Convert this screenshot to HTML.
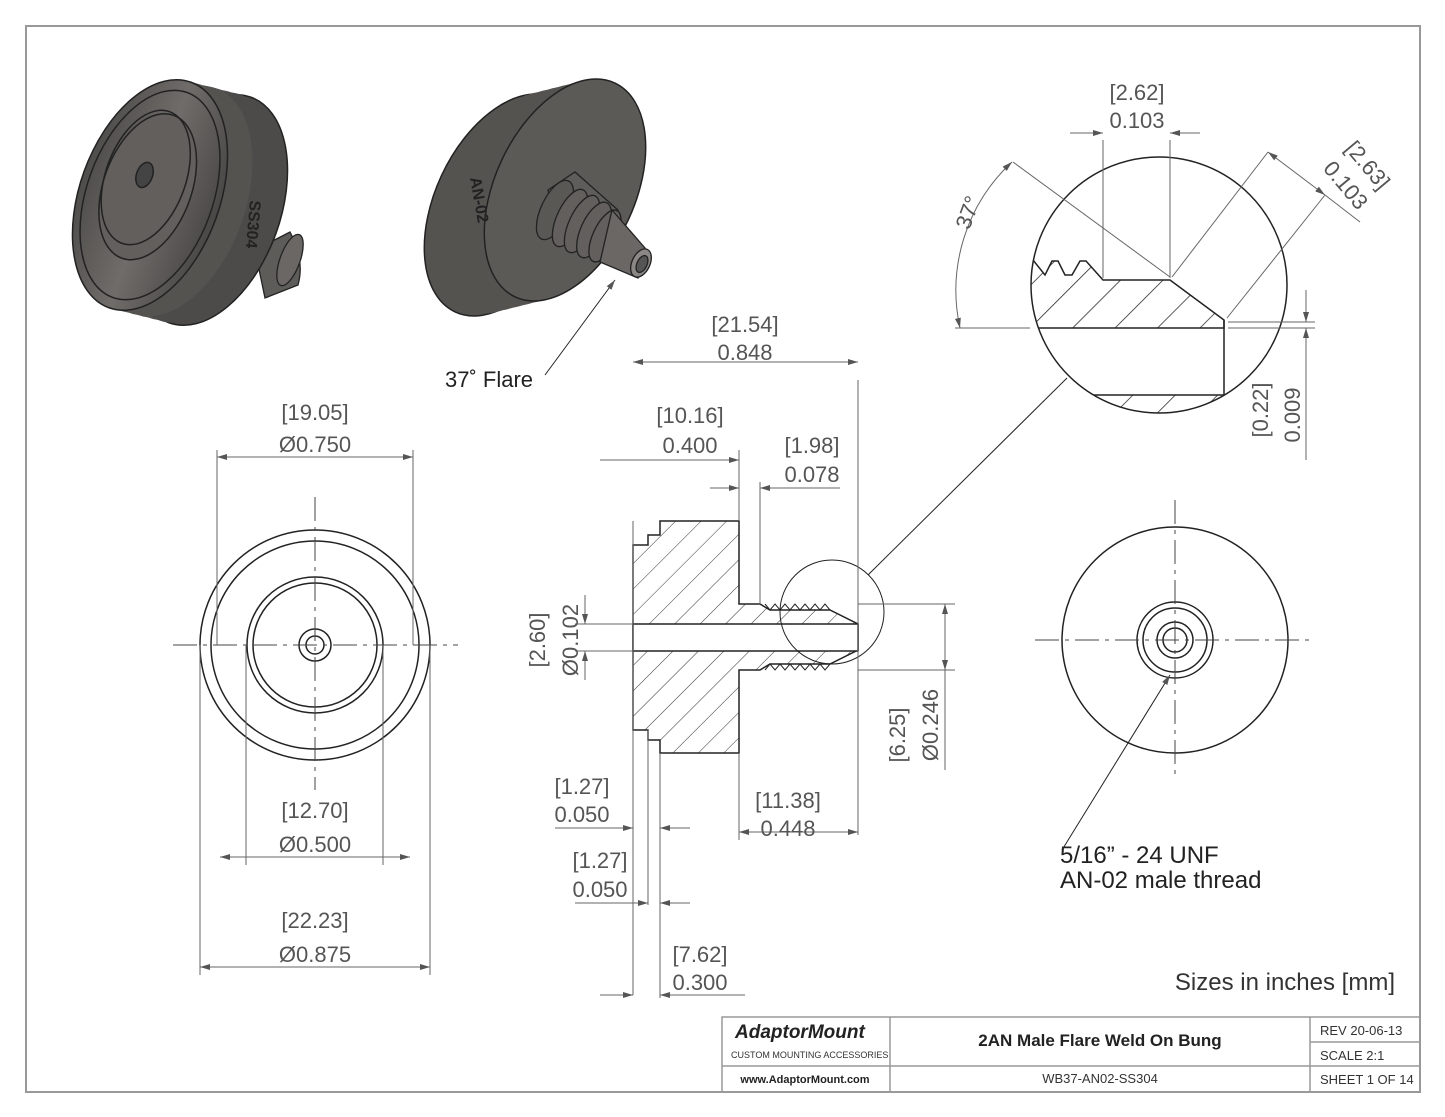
<!DOCTYPE html>
<html><head><style>
html,body{margin:0;padding:0;background:#fff}
svg{display:block}
text{font-family:"Liberation Sans",sans-serif;fill:#555}
.d{font-size:22px}
</style></head><body>
<svg width="1445" height="1117" viewBox="0 0 1445 1117" xmlns="http://www.w3.org/2000/svg">
<defs>
<pattern id="h" width="18" height="18" patternUnits="userSpaceOnUse" patternTransform="rotate(45)">
<rect width="18" height="18" fill="#fff"/><line x1="0" y1="0" x2="0" y2="18" stroke="#333" stroke-width="1"/></pattern>
<pattern id="h2" width="30" height="30" patternUnits="userSpaceOnUse" patternTransform="rotate(45)">
<rect width="30" height="30" fill="#fff"/><line x1="0" y1="0" x2="0" y2="30" stroke="#222" stroke-width="1.5"/></pattern>
<marker id="a" markerWidth="10" markerHeight="6" refX="10" refY="3" orient="auto-start-reverse"><path d="M0,0 L10,3 L0,6z" fill="#555"/></marker>
<linearGradient id="g" x1="0" x2="1"><stop offset="0" stop-color="#4f4d4b"/><stop offset="0.5" stop-color="#6f6c69"/><stop offset="1" stop-color="#4a4846"/></linearGradient>
</defs>
<rect x="26" y="26" width="1394" height="1066" fill="none" stroke="#999" stroke-width="2"/>

<!-- 3D left -->
<g fill="#555350">
<path d="M255,250 L290,232 Q305,260 298,285 L265,298z" fill="#5e5c59" stroke="#222" stroke-width="1.3"/>
<g transform="rotate(20 290 260)"><ellipse cx="290" cy="260" rx="10" ry="27" fill="#6a6764" stroke="#222" stroke-width="1.3"/></g>
<g transform="rotate(20 150 195)"><ellipse cx="150" cy="195" rx="70" ry="120"/></g>
<g transform="translate(10,2.5) rotate(20 150 195)"><ellipse cx="150" cy="195" rx="70" ry="120"/></g>
<g transform="translate(20,5) rotate(20 150 195)"><ellipse cx="150" cy="195" rx="70" ry="120"/></g>
<g transform="translate(30,7.5) rotate(20 150 195)"><ellipse cx="150" cy="195" rx="70" ry="120"/></g>
<g transform="translate(40,10) rotate(20 150 195)"><ellipse cx="150" cy="195" rx="70" ry="120"/></g>
<g transform="translate(50,12.5) rotate(20 150 195)"><ellipse cx="150" cy="195" rx="70" ry="120"/></g>
<g transform="translate(60,15) rotate(20 150 195)"><ellipse cx="150" cy="195" rx="70" ry="120" stroke="#222" stroke-width="1.5" fill="#4d4b49"/></g>
<g transform="translate(50,12.5) rotate(20 150 195)"><ellipse cx="150" cy="195" rx="70" ry="120" fill="#4d4b49"/></g>
<g transform="translate(25,6) rotate(20 150 195)"><ellipse cx="150" cy="195" rx="70" ry="120" fill="#555350"/></g>
<g transform="rotate(20 150 195)" stroke="#222" stroke-width="1.5">
<ellipse cx="150" cy="195" rx="70" ry="120" fill="url(#g)"/>
<ellipse cx="150" cy="195" rx="63" ry="109" fill="none"/>
<ellipse cx="145" cy="188" rx="44" ry="76" fill="#625f5c"/>
<ellipse cx="140" cy="180" rx="40" ry="70" fill="none"/>
<ellipse cx="138" cy="178" rx="8" ry="13" fill="#444"/>
</g>
</g>
<text x="250" y="200" font-size="16" font-weight="bold" transform="rotate(95 250 200)" style="fill:#222">SS304</text>

<!-- 3D right -->
<g fill="#555350">
<g transform="translate(-60,15) rotate(25 565 190)"><ellipse cx="565" cy="190" rx="70" ry="118" stroke="#222" stroke-width="1.5"/></g>
<g transform="translate(-50,12.5) rotate(25 565 190)"><ellipse cx="565" cy="190" rx="70" ry="118"/></g>
<g transform="translate(-40,10) rotate(25 565 190)"><ellipse cx="565" cy="190" rx="70" ry="118"/></g>
<g transform="translate(-30,7.5) rotate(25 565 190)"><ellipse cx="565" cy="190" rx="70" ry="118"/></g>
<g transform="translate(-20,5) rotate(25 565 190)"><ellipse cx="565" cy="190" rx="70" ry="118"/></g>
<g transform="translate(-10,2.5) rotate(25 565 190)"><ellipse cx="565" cy="190" rx="70" ry="118"/></g>
<g transform="rotate(25 565 190)"><ellipse cx="565" cy="190" rx="70" ry="118" stroke="#222" stroke-width="1.5" fill="#5c5a57"/></g>
</g>
<g stroke="#222" stroke-width="1.3">
<path d="M548,190 L575,172 L618,210 L598,255 L560,235z" fill="#5f5d5a"/>
<g transform="rotate(25 555 210)"><ellipse cx="555" cy="210" rx="14" ry="32" fill="#5a5855"/></g>
<g transform="rotate(25 570 218)"><ellipse cx="570" cy="218" rx="13" ry="31" fill="#625f5c"/></g>
<g transform="rotate(25 582 224)"><ellipse cx="582" cy="224" rx="13" ry="31" fill="#625f5c"/></g>
<g transform="rotate(25 594 230)"><ellipse cx="594" cy="230" rx="13" ry="30" fill="#625f5c"/></g>
<g transform="rotate(25 605 236)"><ellipse cx="605" cy="236" rx="12" ry="28" fill="#625f5c"/></g>
<path d="M612,210 L645,248 L638,278 L600,262z" fill="#6a6764"/>
<g transform="rotate(25 641 263)"><ellipse cx="641" cy="263" rx="9" ry="15" fill="#8a8784"/></g>
<g transform="rotate(25 642 264)"><ellipse cx="642" cy="264" rx="5" ry="9" fill="#555"/></g>
</g>
<text x="470" y="178" font-size="16" font-weight="bold" transform="rotate(80 470 178)" style="fill:#222">AN-02</text>
<line x1="545" y1="375" x2="615" y2="280" stroke="#222" marker-end="url(#a)"/>
<text x="445" y="387" font-size="22" style="fill:#222">37˚ Flare</text>

<!-- Front view left -->
<g fill="none" stroke="#222" stroke-width="1.5">
<circle cx="315" cy="645" r="115"/><circle cx="315" cy="645" r="104"/>
<circle cx="315" cy="645" r="68"/><circle cx="315" cy="645" r="62"/>
<circle cx="315" cy="645" r="16"/><circle cx="315" cy="645" r="9"/>
</g>
<g stroke="#444" stroke-dasharray="24,6,4,6">
<line x1="173" y1="645" x2="458" y2="645"/><line x1="315" y1="497" x2="315" y2="790"/>
</g>
<g stroke="#666" fill="none">
<line x1="217" y1="645" x2="217" y2="450"/><line x1="413" y1="645" x2="413" y2="450"/>
<line x1="217" y1="457" x2="413" y2="457" marker-start="url(#a)" marker-end="url(#a)"/>
<line x1="246" y1="645" x2="246" y2="865"/><line x1="383" y1="645" x2="383" y2="865"/>
<line x1="220" y1="857" x2="410" y2="857" marker-start="url(#a)" marker-end="url(#a)"/>
<line x1="200" y1="645" x2="200" y2="975"/><line x1="430" y1="645" x2="430" y2="975"/>
<line x1="200" y1="967" x2="430" y2="967" marker-start="url(#a)" marker-end="url(#a)"/>
</g>
<text class="d" x="315" y="420" text-anchor="middle">[19.05]</text><text class="d" x="315" y="452" text-anchor="middle">Ø0.750</text>
<text class="d" x="315" y="818" text-anchor="middle">[12.70]</text><text class="d" x="315" y="852" text-anchor="middle">Ø0.500</text>
<text class="d" x="315" y="928" text-anchor="middle">[22.23]</text><text class="d" x="315" y="962" text-anchor="middle">Ø0.875</text>

<!-- Section view -->
<path d="M660,521 L739,521 L739,604 L760,604 L770,610 L830,610 L858,624 L858,650 L830,664 L770,664 L760,670 L739,670 L739,753 L660,753 L660,740 L648,740 L648,730 L633,730 L633,545 L648,545 L648,535 L660,535z" fill="url(#h)" stroke="#222" stroke-width="1.5"/>
<rect x="633" y="624" width="225" height="27" fill="#fff" stroke="#222" stroke-width="1.5"/>
<g stroke="#222" stroke-width="1" fill="none">
<path d="M765,604 l5,6 l5,-6 l5,6 l5,-6 l5,6 l5,-6 l5,6 l5,-6 l5,6 l5,-6 l5,6 l5,-6 l5,6"/>
<path d="M765,670 l5,-6 l5,6 l5,-6 l5,6 l5,-6 l5,6 l5,-6 l5,6 l5,-6 l5,6 l5,-6 l5,6 l5,-6"/>
<circle cx="832" cy="612" r="52"/>
<line x1="868" y1="575" x2="1067" y2="378"/>
</g>
<g stroke="#666" fill="none">
<line x1="633" y1="521" x2="633" y2="995"/><line x1="858" y1="380" x2="858" y2="835"/>
<line x1="633" y1="362" x2="858" y2="362" marker-start="url(#a)" marker-end="url(#a)"/>
<line x1="739" y1="450" x2="739" y2="521"/>
<line x1="600" y1="460" x2="739" y2="460" marker-end="url(#a)"/>
<line x1="760" y1="482" x2="760" y2="604"/>
<line x1="710" y1="488" x2="739" y2="488" marker-end="url(#a)"/><line x1="840" y1="488" x2="760" y2="488" marker-end="url(#a)"/>
<line x1="575" y1="624" x2="633" y2="624"/><line x1="575" y1="651" x2="633" y2="651"/>
<line x1="585" y1="595" x2="585" y2="624" marker-end="url(#a)"/><line x1="585" y1="680" x2="585" y2="651" marker-end="url(#a)"/>
<line x1="858" y1="604" x2="955" y2="604"/><line x1="858" y1="670" x2="955" y2="670"/>
<line x1="945" y1="604" x2="945" y2="670" marker-start="url(#a)" marker-end="url(#a)"/>
<line x1="945" y1="670" x2="945" y2="770"/>
<line x1="648" y1="730" x2="648" y2="905"/><line x1="660" y1="753" x2="660" y2="998"/>
<line x1="555" y1="828" x2="633" y2="828" marker-end="url(#a)"/><line x1="690" y1="828" x2="660" y2="828" marker-end="url(#a)"/>
<line x1="575" y1="903" x2="648" y2="903" marker-end="url(#a)"/><line x1="690" y1="903" x2="660" y2="903" marker-end="url(#a)"/>
<line x1="600" y1="995" x2="633" y2="995" marker-end="url(#a)"/><line x1="745" y1="995" x2="660" y2="995" marker-end="url(#a)"/>
<line x1="739" y1="753" x2="739" y2="840"/>
<line x1="739" y1="832" x2="858" y2="832" marker-start="url(#a)" marker-end="url(#a)"/>
</g>
<text class="d" x="745" y="332" text-anchor="middle">[21.54]</text><text class="d" x="745" y="360" text-anchor="middle">0.848</text>
<text class="d" x="690" y="423" text-anchor="middle">[10.16]</text><text class="d" x="690" y="453" text-anchor="middle">0.400</text>
<text class="d" x="812" y="453" text-anchor="middle">[1.98]</text><text class="d" x="812" y="482" text-anchor="middle">0.078</text>
<text class="d" x="545" y="640" text-anchor="middle" transform="rotate(-90 545 640)">[2.60]</text>
<text class="d" x="578" y="640" text-anchor="middle" transform="rotate(-90 578 640)">Ø0.102</text>
<text class="d" x="905" y="735" text-anchor="middle" transform="rotate(-90 905 735)">[6.25]</text>
<text class="d" x="938" y="725" text-anchor="middle" transform="rotate(-90 938 725)">Ø0.246</text>
<text class="d" x="582" y="794" text-anchor="middle">[1.27]</text><text class="d" x="582" y="822" text-anchor="middle">0.050</text>
<text class="d" x="600" y="868" text-anchor="middle">[1.27]</text><text class="d" x="600" y="897" text-anchor="middle">0.050</text>
<text class="d" x="700" y="962" text-anchor="middle">[7.62]</text><text class="d" x="700" y="990" text-anchor="middle">0.300</text>
<text class="d" x="788" y="808" text-anchor="middle">[11.38]</text><text class="d" x="788" y="836" text-anchor="middle">0.448</text>

<!-- Right view -->
<circle cx="1175" cy="640" r="113" fill="none" stroke="#222" stroke-width="1.5"/>
<g fill="none" stroke="#222" stroke-width="1.5">
<circle cx="1175" cy="640" r="38"/><circle cx="1175" cy="640" r="32"/><circle cx="1175" cy="640" r="18"/><circle cx="1175" cy="640" r="12"/>
</g>
<g stroke="#444" stroke-dasharray="24,6,4,6">
<line x1="1035" y1="640" x2="1315" y2="640"/><line x1="1175" y1="500" x2="1175" y2="780"/>
</g>
<line x1="1062" y1="850" x2="1170" y2="675" stroke="#222" marker-end="url(#a)"/>
<text x="1060" y="863" font-size="24" style="fill:#222">5/16” - 24 UNF</text>
<text x="1060" y="888" font-size="24" style="fill:#222">AN-02 male thread</text>
<text x="1395" y="990" font-size="24" text-anchor="end" style="fill:#333">Sizes in inches [mm]</text>

<!-- Detail -->
<clipPath id="c"><circle cx="1159" cy="285" r="128"/></clipPath>
<g clip-path="url(#c)">
<path d="M1020,260 L1033,260 L1045,275 L1052,261 L1058,261 L1065,275 L1072,275 L1080,261 L1086,261 L1103,280 L1170,280 L1224,320 L1224,328 L1020,328z" fill="url(#h2)" stroke="#222" stroke-width="1.5"/>
<path d="M1090,395 L1224,395 L1224,420 L1090,420z" fill="url(#h2)" stroke="#222" stroke-width="1.5"/>
<path d="M1224,320 L1224,395" stroke="#222" stroke-width="1.5"/>
</g>
<circle cx="1159" cy="285" r="128" fill="none" stroke="#222" stroke-width="1.5"/>
<g stroke="#666" fill="none">
<line x1="1103" y1="140" x2="1103" y2="278"/><line x1="1170" y1="140" x2="1170" y2="278"/>
<line x1="1070" y1="133" x2="1103" y2="133" marker-end="url(#a)"/><line x1="1200" y1="133" x2="1170" y2="133" marker-end="url(#a)"/>
<line x1="1013" y1="162" x2="1170" y2="277"/>
<line x1="1172" y1="277" x2="1268" y2="152"/>
<line x1="1227" y1="318" x2="1325" y2="195"/>
<line x1="1268" y1="152" x2="1325" y2="195" marker-start="url(#a)" marker-end="url(#a)"/>
<line x1="1325" y1="195" x2="1360" y2="222"/>
<path d="M1012,162 A175,175 0 0 0 960,328" marker-start="url(#a)" marker-end="url(#a)"/>
<line x1="955" y1="328" x2="1030" y2="328"/>
<line x1="1228" y1="322" x2="1315" y2="322"/><line x1="1228" y1="328" x2="1315" y2="328"/>
<line x1="1306" y1="290" x2="1306" y2="322" marker-end="url(#a)"/><line x1="1306" y1="360" x2="1306" y2="328" marker-end="url(#a)"/>
<line x1="1306" y1="360" x2="1306" y2="460"/>
</g>
<text class="d" x="1137" y="100" text-anchor="middle">[2.62]</text><text class="d" x="1137" y="128" text-anchor="middle">0.103</text>
<text class="d" x="1362" y="170" text-anchor="middle" transform="rotate(50 1362 170)">[2.63]</text>
<text class="d" x="1340" y="190" text-anchor="middle" transform="rotate(50 1340 190)">0.103</text>
<text class="d" x="975" y="215" text-anchor="middle" transform="rotate(-70 975 215)">37°</text>
<text class="d" x="1268" y="410" text-anchor="middle" transform="rotate(-90 1268 410)">[0.22]</text>
<text class="d" x="1300" y="415" text-anchor="middle" transform="rotate(-90 1300 415)">0.009</text>

<!-- Title block -->
<g stroke="#999" fill="none" stroke-width="1.5">
<rect x="722" y="1017" width="698" height="75"/>
<line x1="890" y1="1017" x2="890" y2="1092"/><line x1="1310" y1="1017" x2="1310" y2="1092"/>
<line x1="722" y1="1066" x2="1420" y2="1066"/><line x1="1310" y1="1042" x2="1420" y2="1042"/>
</g>
<text x="735" y="1038" font-size="19" font-style="italic" font-weight="bold" style="fill:#222">AdaptorMount</text>
<text x="731" y="1058" font-size="9" style="fill:#333">CUSTOM MOUNTING ACCESSORIES</text>
<text x="805" y="1083" font-size="11" font-weight="bold" text-anchor="middle" style="fill:#222">www.AdaptorMount.com</text>
<text x="1100" y="1046" font-size="17" font-weight="bold" text-anchor="middle" style="fill:#222">2AN Male Flare Weld On Bung</text>
<text x="1100" y="1083" font-size="13" text-anchor="middle" style="fill:#333">WB37-AN02-SS304</text>
<text x="1320" y="1035" font-size="13" style="fill:#333">REV 20-06-13</text>
<text x="1320" y="1060" font-size="13" style="fill:#333">SCALE 2:1</text>
<text x="1320" y="1084" font-size="13" style="fill:#333">SHEET 1 OF 14</text>
</svg>
</body></html>
